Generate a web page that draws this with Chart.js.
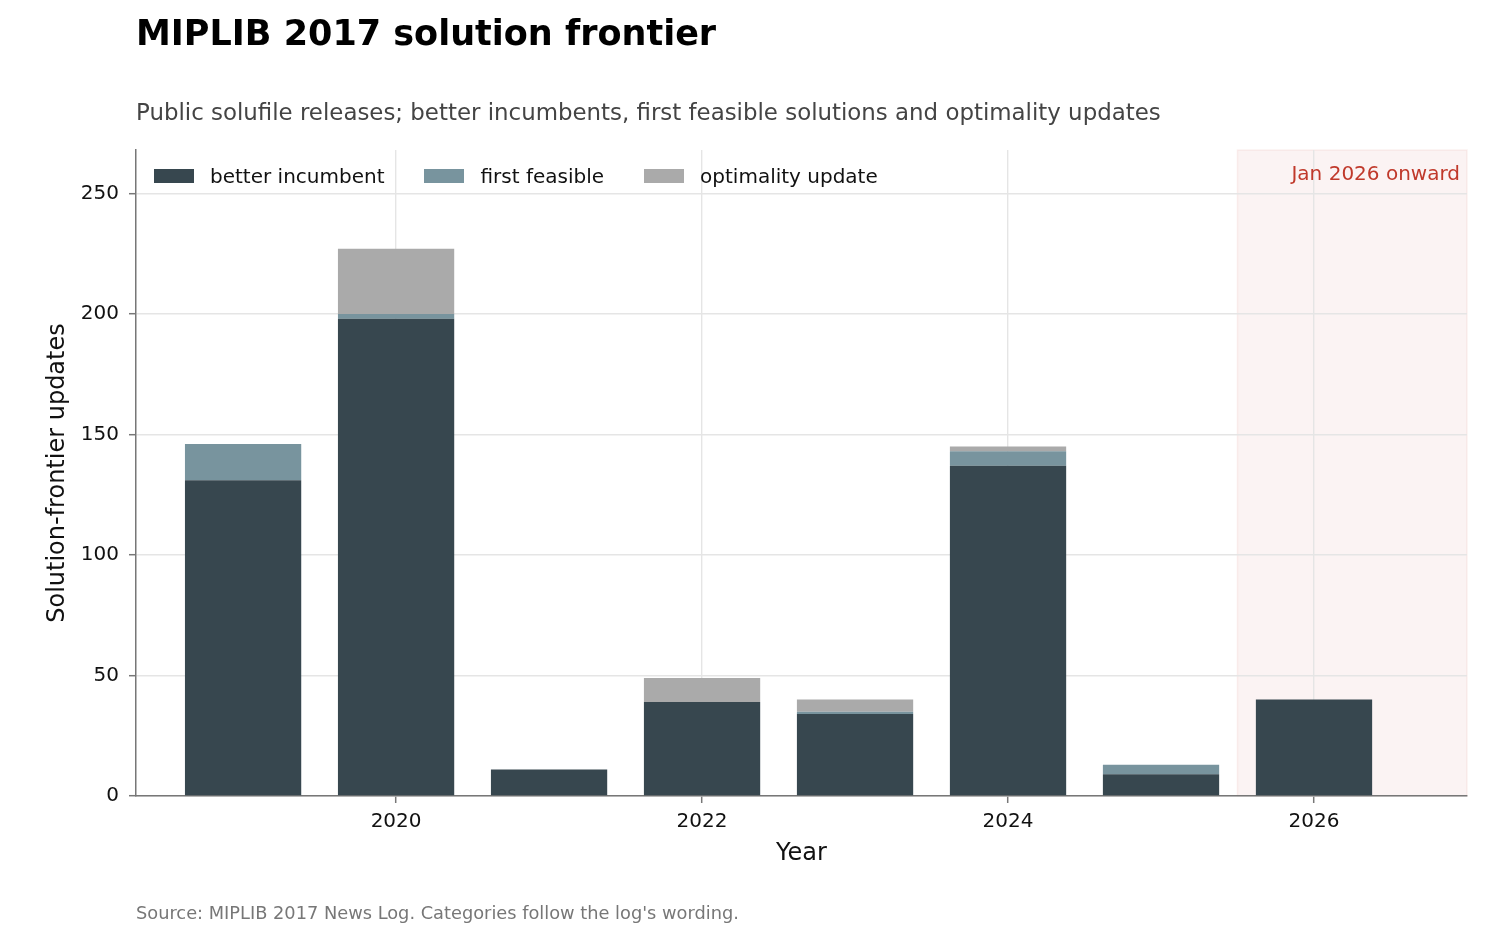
<!DOCTYPE html>
<html>
<head>
<meta charset="utf-8">
<script src="https://cdn.jsdelivr.net/npm/chart.js@4.4.1/dist/chart.umd.min.js"></script>
<style>
  html, body { margin: 0; padding: 0; background: #fff; }
  body { width: 1512px; height: 936px; position: relative; overflow: hidden; font-family: 'DejaVu Sans', sans-serif; }
  #wrap { position: absolute; left: 0; top: 0; width: 1512px; height: 936px; }
  .title { position: absolute; left: 136px; top: 16px; font-size: 35px; line-height: 1; font-weight: bold; color: #000; white-space: nowrap; }
  .subtitle { position: absolute; left: 136px; top: 101px; font-size: 22.9px; line-height: 1; color: #444; white-space: nowrap; }
  .source { position: absolute; left: 136px; top: 904px; font-size: 17.8px; line-height: 1; color: #777; white-space: nowrap; }
  #legend { position: absolute; left: 154px; top: 166px; display: flex; align-items: center; font-size: 20px; line-height: 20px; color: #111; }
  #legend .item { display: flex; align-items: center; margin-right: 40px; }
  #legend .box { width: 40px; height: 14px; margin-right: 16px; }
</style>
</head>
<body>
<div id="wrap"><canvas id="chart"></canvas></div>
<div class="title">MIPLIB 2017 solution frontier</div>
<div class="subtitle">Public solufile releases; better incumbents, first feasible solutions and optimality updates</div>
<div id="legend"></div>
<div class="source">Source: MIPLIB 2017 News Log. Categories follow the log's wording.</div>

<script>
/* ── Data ─────────────────────────────────────────────────────────────── */
const years            = [2019, 2020, 2021, 2022, 2023, 2024, 2025, 2026];
const betterIncumbent  = [131, 198, 11, 39, 34, 137, 9, 40];
const firstFeasible    = [15, 2, 0, 0, 1, 6, 4, 0];
const optimalityUpdate = [0, 27, 0, 10, 5, 2, 0, 0];
const xTickYears       = [2020, 2022, 2024, 2026];
const yTickValues      = [0, 50, 100, 150, 200, 250];
const seriesNames      = ['better incumbent', 'first feasible', 'optimality update'];
const seriesColors     = ['#37474f', '#78949e', '#aaaaaa'];
const shadeFrom        = 2025.5;
const shadeLabel       = 'Jan 2026 onward';

const FONT = "'DejaVu Sans', sans-serif";
const GRID = '#e5e5e5';
const SPINE = '#777777';

const toPoints = vals => vals.map((v, i) => ({ x: years[i], y: v }));

/* ── Shaded "onward" region + label ───────────────────────────────────── */
const shadePlugin = {
  id: 'shade',
  beforeDraw(chart) {
    const { ctx, chartArea: a, scales: { x } } = chart;
    const x0 = x.getPixelForValue(shadeFrom);
    ctx.save();
    ctx.fillStyle = 'rgba(192,57,43,0.06)';
    ctx.fillRect(x0, a.top, a.right - x0, a.bottom - a.top);
    ctx.strokeStyle = 'rgba(192,57,43,0.07)';
    ctx.lineWidth = 1.5;
    ctx.strokeRect(x0, a.top, a.right - x0, a.bottom - a.top);
    ctx.restore();
  },
  afterDraw(chart) {
    const { ctx, chartArea: a } = chart;
    ctx.save();
    ctx.font = `20px ${FONT}`;
    ctx.fillStyle = '#c0392b';
    ctx.textAlign = 'right';
    ctx.textBaseline = 'middle';
    ctx.fillText(shadeLabel, a.right - 7, a.top + 25);
    ctx.restore();
  },
};

/* ── Chart ────────────────────────────────────────────────────────────── */
const ctx = document.getElementById('chart').getContext('2d');
const chart = new Chart(ctx, {
  type: 'bar',
  data: {
    datasets: [betterIncumbent, firstFeasible, optimalityUpdate].map((vals, i) => ({
      label: seriesNames[i],
      data: toPoints(vals),
      backgroundColor: seriesColors[i],
      borderWidth: 0,
      categoryPercentage: 1,
      barPercentage: 0.76,
    })),
  },
  options: {
    responsive: true,
    maintainAspectRatio: false,
    animation: false,
    layout: { padding: { left: 39, top: 150, right: 45, bottom: 64 } },
    plugins: {
      legend: { display: false },
      tooltip: { enabled: false },
    },
    scales: {
      x: {
        type: 'linear',
        stacked: true,
        offset: false,
        min: 2018.3,
        max: 2027,
        afterBuildTicks: s => { s.ticks = xTickYears.map(v => ({ value: v })); },
        afterFit: s => { s.height = 76; },
        grid: { offset: false, color: GRID, lineWidth: 1.4, tickColor: SPINE, tickLength: 7, tickWidth: 1.5 },
        border: { color: SPINE, width: 1.5 },
        ticks: { callback: v => String(v), color: '#111', padding: 7, font: { family: FONT, size: 20 }, maxRotation: 0 },
        title: { display: true, text: 'Year', color: '#111', padding: { top: 4, bottom: 4 }, font: { family: FONT, size: 24 } },
      },
      y: {
        stacked: true,
        min: 0,
        max: 268,
        afterBuildTicks: s => { s.ticks = yTickValues.map(v => ({ value: v })); },
        afterFit: s => { s.width = 97; },
        grid: { color: GRID, lineWidth: 1.4, tickColor: SPINE, tickLength: 7, tickWidth: 1.5 },
        border: { color: SPINE, width: 1.5 },
        ticks: { color: '#111', padding: 10, font: { family: FONT, size: 20 } },
        title: { display: true, text: 'Solution-frontier updates', color: '#111', padding: { top: 4, bottom: 4 }, font: { family: FONT, size: 24 } },
      },
    },
  },
  plugins: [shadePlugin],
});

/* ── HTML legend ──────────────────────────────────────────────────────── */
document.getElementById('legend').innerHTML = seriesNames.map((name, i) => `
  <div class="item"><span class="box" style="background:${seriesColors[i]}"></span>${name}</div>
`).join('');
</script>
</body>
</html>
